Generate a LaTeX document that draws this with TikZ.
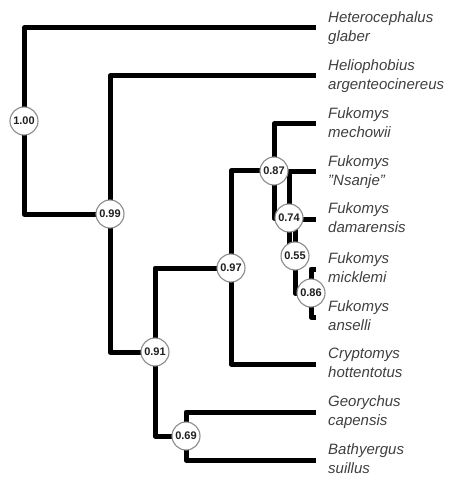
\documentclass[tikz,border=0pt]{standalone}
\usepackage{fontspec}
\setmainfont{Liberation Sans}
\usetikzlibrary{positioning}
\definecolor{ink}{HTML}{1F1F1F}
\definecolor{muted}{HTML}{404040}
\definecolor{ring}{HTML}{8C8C8C}
\newcommand{\species}[2]{\strut#1\\\strut#2}
\tikzset{
  branch/.style={line width=5pt,draw=black,line join=round},
  taxon/.style={anchor=west,align=left,inner xsep=12pt,inner ysep=0pt,text=muted,font=\fontsize{15}{19}\selectfont\itshape},
  support/.style={circle,draw=ring,line width=1.1pt,fill=white,minimum size=28pt,inner sep=0pt,text=ink,font=\fontsize{11}{13}\selectfont\bfseries}
}

\begin{document}
\begin{tikzpicture}[x=1pt,y=-1pt]
  \useasboundingbox[fill=white] (0,0) rectangle (449,478);
  \coordinate (n100) at (24,121);
  \coordinate (n99) at (110,214);
  \coordinate (n91) at (155,352);
  \coordinate (n97) at (231,268);
  \coordinate (n87) at (274,171);
  \coordinate (n74) at (289,218);
  \coordinate (n55) at (295,256);
  \coordinate (n86) at (311,293);
  \coordinate (n69) at (186,436);
  \node[taxon] (hetero) at (316,28) {\species{Heterocephalus}{glaber}};
  \node[taxon] (helio) at (316,76) {\species{Heliophobius}{argenteocinereus}};
  \node[taxon] (mechowii) at (316,124) {\species{Fukomys}{mechowii}};
  \node[taxon] (nsanje) at (316,172) {\species{Fukomys}{"Nsanje"}};
  \node[taxon] (damarensis) at (316,219) {\species{Fukomys}{damarensis}};
  \node[taxon] (micklemi) at (316,269) {\species{Fukomys}{micklemi}};
  \node[taxon] (anselli) at (316,317) {\species{Fukomys}{anselli}};
  \node[taxon] (crypto) at (316,364) {\species{Cryptomys}{hottentotus}};
  \node[taxon] (georychus) at (316,412) {\species{Georychus}{capensis}};
  \node[taxon] (bathyergus) at (316,460) {\species{Bathyergus}{suillus}};
  \draw[branch] (hetero.west) -| (n100) |- (n99);
  \draw[branch] (helio.west) -| (n99) |- (n91);
  \draw[branch] (n97) -| (n91) |- (n69);
  \draw[branch] (georychus.west) -| (n69) |- (bathyergus.west);
  \draw[branch] (n87) -| (n97) |- (crypto.west);
  \draw[branch] (mechowii.west) -| (n87) |- (n74);
  \draw[branch] (nsanje.west) -| (n74) |- (n55);
  \draw[branch] (damarensis.west) -| (n55) |- (n86);
  \draw[branch] (micklemi.west) -| (n86) |- (anselli.west);
  \node[support] (s100) at (n100) {1.00};
  \node[support] (s99) at (n99) {0.99};
  \node[support] (s91) at (n91) {0.91};
  \node[support] (s97) at (n97) {0.97};
  \node[support] (s87) at (n87) {0.87};
  \node[support] (s74) at (n74) {0.74};
  \node[support] (s55) at (n55) {0.55};
  \node[support] (s86) at (n86) {0.86};
  \node[support] (s69) at (n69) {0.69};
\end{tikzpicture}
\end{document}
